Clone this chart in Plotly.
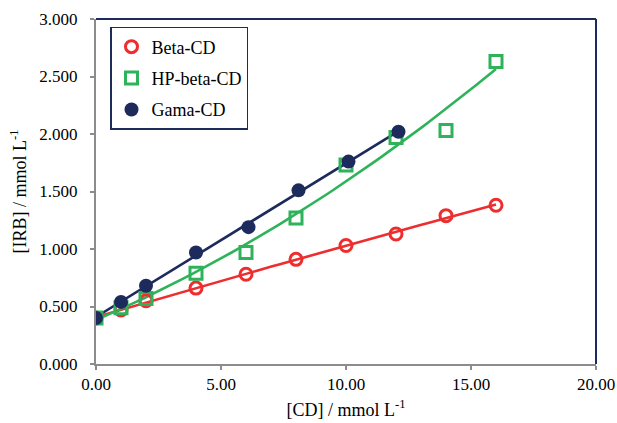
import numpy as np
import plotly.graph_objects as go

# ---- data ----
beta_x = [0, 1, 2, 4, 6, 8, 10, 12, 14, 16]
beta_y = [0.40, 0.47, 0.55, 0.66, 0.78, 0.91, 1.03, 1.13, 1.29, 1.38]

hp_x = [0, 1, 2, 4, 6, 8, 10, 12, 14, 16]
hp_y = [0.40, 0.49, 0.57, 0.79, 0.97, 1.27, 1.73, 1.97, 2.03, 2.63]

gama_x = [0, 1, 2, 4, 6.1, 8.1, 10.1, 12.1]
gama_y = [0.40, 0.54, 0.68, 0.97, 1.19, 1.51, 1.76, 2.02]

series_names = ["Beta-CD", "HP-beta-CD", "Gama-CD"]
fit_degree = [2, 2, 1]

x_ticks = [0, 5, 10, 15, 20]
x_ticklabels = ["0.00", "5.00", "10.00", "15.00", "20.00"]
y_ticks = [0, 0.5, 1.0, 1.5, 2.0, 2.5, 3.0]
y_ticklabels = ["0.000", "0.500", "1.000", "1.500", "2.000", "2.500", "3.000"]

RED = "#EE2E2E"
GREEN = "#2EB35A"
NAVY = "#1C2B5C"
AXIS_GRAY = "#8C8C8C"
FONT = "Liberation Serif"

fig = go.Figure()

data = [(beta_x, beta_y), (hp_x, hp_y), (gama_x, gama_y)]
colors = [RED, GREEN, NAVY]

# trend lines (fitted from the data)
for (xs, ys), c, d in zip(data, colors, fit_degree):
    coef = np.polyfit(xs, ys, d)
    xf = np.linspace(min(xs), max(xs), 60)
    fig.add_trace(go.Scatter(x=xf, y=np.polyval(coef, xf), mode="lines",
                             line=dict(color=c, width=2.6), showlegend=False,
                             hoverinfo="skip"))

marker_styles = [
    dict(symbol="circle-open", size=12, color=RED, line=dict(width=3, color=RED)),
    dict(symbol="square-open", size=12, color=GREEN, line=dict(width=3, color=GREEN)),
    dict(symbol="circle", size=14, color=NAVY, line=dict(width=0)),
]

for (xs, ys), name, m in zip(data, series_names, marker_styles):
    fig.add_trace(go.Scatter(x=xs, y=ys, mode="markers", name=name,
                             marker=m, legendgroup=name))

# frame: top and right borders in navy
fig.add_shape(type="line", xref="paper", yref="paper", x0=0, x1=1, y0=1, y1=1,
              line=dict(color=NAVY, width=2))
fig.add_shape(type="line", xref="paper", yref="paper", x0=1, x1=1, y0=0, y1=1,
              line=dict(color=NAVY, width=2))

fig.update_layout(
    width=617, height=423,
    margin=dict(l=96, r=21, t=19, b=59, autoexpand=False),
    paper_bgcolor="white", plot_bgcolor="white",
    font=dict(family=FONT, size=17, color="black"),
    showlegend=True,
    legend=dict(x=0.028, y=0.977, xanchor="left", yanchor="top",
                bordercolor=NAVY, borderwidth=1.5, bgcolor="white",
                font=dict(family=FONT, size=18), tracegroupgap=5,
                itemwidth=30),
    xaxis=dict(range=[0, 20], tickvals=x_ticks, ticktext=x_ticklabels,
               showgrid=False, zeroline=False, showline=True, automargin=False,
               linecolor=AXIS_GRAY, linewidth=2, ticks="outside",
               ticklen=4, tickcolor=AXIS_GRAY, tickwidth=2,
               title=dict(text="[CD] / mmol L<sup>-1</sup>", font=dict(size=18),
                          standoff=10)),
    yaxis=dict(range=[0, 3], tickvals=y_ticks, ticktext=y_ticklabels,
               showgrid=False, zeroline=False, showline=True, automargin=False,
               linecolor=AXIS_GRAY, linewidth=2, ticks="outside",
               ticklen=4, tickcolor=AXIS_GRAY, tickwidth=2,
               ticklabelstandoff=9,
               title=dict(text="[IRB] / mmol L<sup>-1</sup>", font=dict(size=18),
                          standoff=8)),
)

fig.write_html("out.html")
